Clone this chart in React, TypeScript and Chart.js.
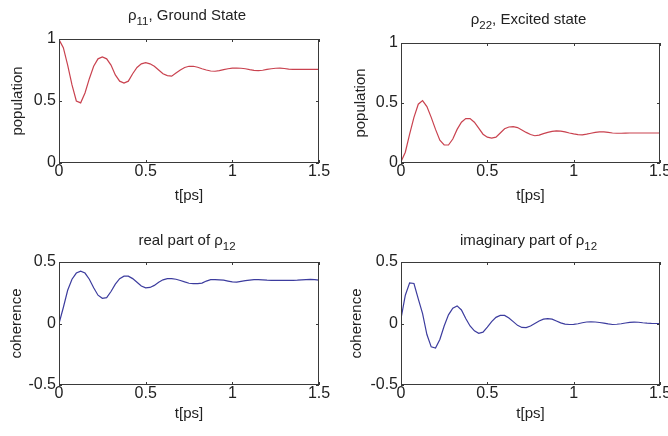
import React, { useEffect, useRef } from "react";
import { Chart, registerables } from "chart.js";

Chart.register(...registerables);

// Time axis in picoseconds
const timePs = [
  0, 0.025, 0.05, 0.075, 0.1, 0.125, 0.15, 0.175, 0.2, 0.225,
  0.25, 0.275, 0.3, 0.325, 0.35, 0.375, 0.4, 0.425, 0.45, 0.475,
  0.5, 0.525, 0.55, 0.575, 0.6, 0.625, 0.65, 0.675, 0.7, 0.725,
  0.75, 0.775, 0.8, 0.825, 0.85, 0.875, 0.9, 0.925, 0.95, 0.975,
  1.0, 1.025, 1.05, 1.075, 1.1, 1.125, 1.15, 1.175, 1.2, 1.225,
  1.25, 1.275, 1.3, 1.325, 1.35, 1.375, 1.4, 1.425, 1.45, 1.475, 1.5,
];

// rho_11 : ground-state population
const rho11Ground = [
  0.995, 0.93, 0.79, 0.63, 0.5, 0.485, 0.565, 0.68, 0.78, 0.84,
  0.855, 0.84, 0.79, 0.71, 0.66, 0.645, 0.66, 0.72, 0.77, 0.8,
  0.81, 0.8, 0.78, 0.75, 0.72, 0.705, 0.7, 0.725, 0.75, 0.77,
  0.78, 0.78, 0.772, 0.76, 0.75, 0.742, 0.74, 0.745, 0.753, 0.76,
  0.765, 0.766, 0.764, 0.76, 0.753, 0.747, 0.745, 0.748, 0.755, 0.76,
  0.764, 0.765, 0.762, 0.757, 0.755, 0.755, 0.755, 0.755, 0.755, 0.755, 0.755,
];

// rho_22 : excited-state population
const rho22Excited = [
  0.01, 0.09, 0.24, 0.38, 0.49, 0.52, 0.47, 0.38, 0.28, 0.19,
  0.15, 0.15, 0.2, 0.28, 0.34, 0.37, 0.37, 0.34, 0.29, 0.24,
  0.215, 0.207, 0.215, 0.25, 0.285, 0.3, 0.303, 0.295, 0.275, 0.255,
  0.237, 0.227, 0.232, 0.245, 0.255, 0.263, 0.268, 0.266, 0.26, 0.25,
  0.243, 0.237, 0.235, 0.24, 0.248, 0.255, 0.26, 0.259, 0.255, 0.25,
  0.248, 0.248, 0.249, 0.25, 0.25, 0.25, 0.25, 0.25, 0.25, 0.25, 0.25,
];

// Re(rho_12)
const rho12Real = [
  0.0, 0.13, 0.27, 0.36, 0.41, 0.425, 0.41, 0.36, 0.29, 0.23,
  0.205, 0.21, 0.26, 0.32, 0.365, 0.385, 0.385, 0.365, 0.335, 0.305,
  0.29, 0.293, 0.31, 0.335, 0.355, 0.365, 0.365, 0.36, 0.35, 0.338,
  0.327, 0.325, 0.325, 0.328, 0.345, 0.356, 0.357, 0.355, 0.352, 0.345,
  0.338, 0.337, 0.343, 0.348, 0.352, 0.356, 0.357, 0.355, 0.352, 0.35,
  0.35, 0.35, 0.35, 0.35, 0.35, 0.352, 0.355, 0.357, 0.358, 0.357, 0.352,
];

// Im(rho_12)
const rho12Imag = [
  0.04, 0.23, 0.33, 0.325, 0.2, 0.08, -0.09, -0.19, -0.2, -0.13,
  -0.02, 0.07, 0.125, 0.143, 0.11, 0.04, -0.02, -0.06, -0.08, -0.07,
  -0.03, 0.015, 0.05, 0.066, 0.066, 0.045, 0.015, -0.015, -0.032, -0.033,
  -0.02, 0.0, 0.02, 0.035, 0.04, 0.035, 0.02, 0.005, -0.005, -0.008,
  -0.007, -0.002, 0.006, 0.012, 0.014, 0.012, 0.008, 0.003, -0.003, -0.008,
  -0.006, -0.002, 0.004, 0.009, 0.011, 0.01, 0.006, 0.003, 0.001, 0.0, 0.0,
];

// Tick values
const timeTicks = [0, 0.5, 1, 1.5];
const populationTicks = [0, 0.5, 1];
const coherenceTicks = [-0.5, 0, 0.5];

const RED = "#c9424f";
const BLUE = "#3c3c9e";
const INK = "#222222";
const FRAME = "#3a3a3a";
const FAMILY = "'Liberation Sans', Arial, Helvetica, sans-serif";

type Seg = { text: string; sub?: boolean };

type Panel = {
  values: number[];
  color: string;
  yTicks: number[];
  yLabel: string;
  title: Seg[];
  box: { x: number; y: number; w: number; h: number };
  area: { l: number; t: number; r: number; b: number };
  titleBase: number;
  xLabelY: number;
  yLabelX: number;
};

const PANELS: Panel[] = [
  {
    values: rho11Ground,
    color: RED,
    yTicks: populationTicks,
    yLabel: "population",
    title: [{ text: "ρ" }, { text: "11", sub: true }, { text: ", Ground State" }],
    box: { x: 0, y: 0, w: 334, h: 218 },
    area: { l: 59, t: 39, r: 319, b: 163 },
    titleBase: 20,
    xLabelY: 196,
    yLabelX: 18,
  },
  {
    values: rho22Excited,
    color: RED,
    yTicks: populationTicks,
    yLabel: "population",
    title: [{ text: "ρ" }, { text: "22", sub: true }, { text: ", Excited state" }],
    box: { x: 334, y: 0, w: 334, h: 218 },
    area: { l: 401, t: 43, r: 660, b: 163 },
    titleBase: 24,
    xLabelY: 196,
    yLabelX: 361,
  },
  {
    values: rho12Real,
    color: BLUE,
    yTicks: coherenceTicks,
    yLabel: "coherence",
    title: [{ text: "real part of ρ" }, { text: "12", sub: true }],
    box: { x: 0, y: 218, w: 334, h: 218 },
    area: { l: 59, t: 262, r: 319, b: 385 },
    titleBase: 245,
    xLabelY: 414,
    yLabelX: 16.5,
  },
  {
    values: rho12Imag,
    color: BLUE,
    yTicks: coherenceTicks,
    yLabel: "coherence",
    title: [{ text: "imaginary part of ρ" }, { text: "12", sub: true }],
    box: { x: 334, y: 218, w: 334, h: 218 },
    area: { l: 401, t: 262, r: 660, b: 385 },
    titleBase: 245,
    xLabelY: 414,
    yLabelX: 357,
  },
];

const TITLE_FONT = `15px ${FAMILY}`;
const SUB_FONT = `11.5px ${FAMILY}`;
const LABEL_FONT = `15px ${FAMILY}`;

// Draws the boxed frame with inward tick marks, the subplot title and the axis titles.
const framePlugin = {
  id: "frame",
  afterDatasetsDraw(chart: any, _args: any, opts: any) {
    const { ctx, chartArea: a, scales } = chart;
    const xs = scales.x;
    const ys = scales.y;
    ctx.save();

    // box
    ctx.strokeStyle = FRAME;
    ctx.lineWidth = 1;
    ctx.strokeRect(a.left + 0.5, a.top + 0.5, a.right - a.left - 1, a.bottom - a.top - 1);

    // inward ticks on all four sides
    const len = 3;
    ctx.beginPath();
    for (const v of opts.xTicks as number[]) {
      const px = Math.round(xs.getPixelForValue(v)) + 0.5;
      ctx.moveTo(px, a.bottom);
      ctx.lineTo(px, a.bottom - len);
      ctx.moveTo(px, a.top);
      ctx.lineTo(px, a.top + len);
    }
    for (const v of opts.yTicks as number[]) {
      const py = Math.round(ys.getPixelForValue(v)) + 0.5;
      ctx.moveTo(a.left, py);
      ctx.lineTo(a.left + len, py);
      ctx.moveTo(a.right, py);
      ctx.lineTo(a.right - len, py);
    }
    ctx.stroke();

    // title with subscript
    ctx.fillStyle = INK;
    ctx.textBaseline = "alphabetic";
    ctx.textAlign = "left";
    const segs = opts.title as Seg[];
    let total = 0;
    for (const s of segs) {
      ctx.font = s.sub ? SUB_FONT : TITLE_FONT;
      total += ctx.measureText(s.text).width;
    }
    let x = (a.left + a.right) / 2 - 2 - total / 2;
    for (const s of segs) {
      ctx.font = s.sub ? SUB_FONT : TITLE_FONT;
      ctx.fillText(s.text, x, opts.titleBase + (s.sub ? 5 : 0));
      x += ctx.measureText(s.text).width;
    }

    // x axis title
    ctx.font = LABEL_FONT;
    ctx.textAlign = "center";
    ctx.textBaseline = "middle";
    ctx.fillText(opts.xLabel, (a.left + a.right) / 2, opts.xLabelY);

    // y axis title, rotated
    ctx.translate(opts.yLabelX, (a.top + a.bottom) / 2);
    ctx.rotate(-Math.PI / 2);
    ctx.fillText(opts.yLabel, 0, 0);

    ctx.restore();
  },
};

function SubPlot({ panel }: { panel: Panel }) {
  const ref = useRef<HTMLCanvasElement | null>(null);

  useEffect(() => {
    const canvas = ref.current;
    if (!canvas) return;
    const { box, area } = panel;
    const tickFont = { family: FAMILY, size: 16, lineHeight: 1 };

    const chart = new Chart(canvas, {
      type: "line",
      data: {
        datasets: [
          {
            data: timePs.map((t, i) => ({ x: t, y: panel.values[i] })),
            borderColor: panel.color,
            borderWidth: 1.2,
            pointRadius: 0,
            tension: 0,
            fill: false,
          },
        ],
      },
      options: {
        animation: false,
        responsive: false,
        maintainAspectRatio: false,
        events: [],
        layout: {
          autoPadding: false,
          padding: {
            left: 0,
            top: area.t - box.y,
            right: box.x + box.w - area.r,
            bottom: 0,
          },
        },
        plugins: {
          legend: { display: false },
          tooltip: { enabled: false },
          frame: {
            xTicks: timeTicks,
            yTicks: panel.yTicks,
            title: panel.title,
            titleBase: panel.titleBase - box.y,
            xLabel: "t[ps]",
            xLabelY: panel.xLabelY - box.y,
            yLabel: panel.yLabel,
            yLabelX: panel.yLabelX - box.x,
          },
        } as any,
        scales: {
          x: {
            type: "linear",
            min: timeTicks[0],
            max: timeTicks[timeTicks.length - 1],
            grid: { display: false, drawTicks: false },
            border: { display: false },
            ticks: {
              font: tickFont,
              color: INK,
              padding: 1,
              maxRotation: 0,
              autoSkip: false,
              callback: (v: any) => String(v),
            },
            afterBuildTicks: (s: any) => {
              s.ticks = timeTicks.map((v) => ({ value: v }));
            },
            afterFit: (s: any) => {
              s.height = box.y + box.h - area.b;
              s.paddingLeft = 0;
              s.paddingRight = 0;
              s.paddingTop = 0;
              s.paddingBottom = 0;
            },
          },
          y: {
            type: "linear",
            min: panel.yTicks[0],
            max: panel.yTicks[panel.yTicks.length - 1],
            grid: { display: false, drawTicks: false },
            border: { display: false },
            ticks: {
              font: tickFont,
              color: INK,
              padding: 3,
              autoSkip: false,
              callback: (v: any) => String(v),
            },
            afterBuildTicks: (s: any) => {
              s.ticks = panel.yTicks.map((v) => ({ value: v }));
            },
            afterFit: (s: any) => {
              s.width = area.l - box.x;
              s.paddingLeft = 0;
              s.paddingRight = 0;
              s.paddingTop = 0;
              s.paddingBottom = 0;
            },
          },
        },
      },
      plugins: [framePlugin as any],
    });

    return () => chart.destroy();
  }, [panel]);

  const { box } = panel;
  return (
    <canvas
      ref={ref}
      width={box.w}
      height={box.h}
      style={{ position: "absolute", left: box.x, top: box.y, width: box.w, height: box.h }}
    />
  );
}

export default function App() {
  return (
    <div
      style={{
        position: "fixed",
        left: 0,
        top: 0,
        width: 668,
        height: 436,
        background: "#ffffff",
        overflow: "hidden",
      }}
    >
      {PANELS.map((p, i) => (
        <SubPlot key={i} panel={p} />
      ))}
    </div>
  );
}
